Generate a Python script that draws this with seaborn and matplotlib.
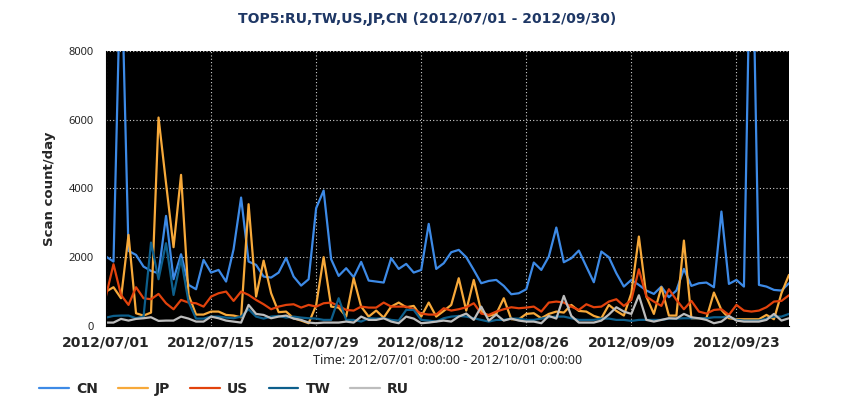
import matplotlib
matplotlib.use("Agg")
import matplotlib.pyplot as plt
import matplotlib.dates as mdates
import numpy as np
import pandas as pd
import seaborn as sns

# daily scan counts, 2012/07/01 .. 2012/09/30
dates = pd.date_range("2012-07-01", "2012-09-30", freq="D")

cn = [2017, 1872, 11000, 2182, 2065, 1726, 1600, 1532, 3200, 1358,
      2085, 1193, 1067, 1920, 1551, 1629, 1290, 2230, 3733, 1872,
      1775, 1435, 1406, 1551, 1978, 1435, 1173, 1358, 3423, 3937,
      1939, 1455, 1678, 1416, 1862, 1319, 1290, 1261, 1969, 1658,
      1804, 1551, 1629, 2967, 1658, 1823, 2143, 2211, 1998, 1629,
      1241, 1309, 1338, 1164, 921, 950, 1067, 1843, 1629, 2017,
      2861, 1852, 1969, 2192, 1726, 1270, 2163, 1998, 1532, 1144,
      1338, 1193, 1028, 931, 1144, 834, 1028, 1658, 1164, 1241,
      1261, 1125, 3326, 1222, 1338, 1144, 13000, 1193, 1144, 1047,
      1028, 1241]
jp = [999, 1125, 805, 2647, 368, 301, 388, 6060, 4150, 2289,
      4393, 900, 330, 330, 417, 417, 320, 301, 252, 3540,
      853, 1900, 950, 400, 417, 223, 155, 78, 600, 1998,
      562, 533, 271, 1387, 562, 271, 446, 242, 562, 679,
      543, 582, 271, 679, 271, 436, 611, 1387, 446, 1338,
      417, 291, 349, 805, 194, 194, 349, 369, 223, 349,
      417, 388, 611, 436, 417, 291, 223, 611, 436, 301,
      950, 2599, 853, 349, 1125, 301, 301, 2482, 223, 223,
      223, 970, 465, 223, 194, 194, 194, 194, 320, 194,
      950, 1484]
us = [873, 1794, 902, 611, 1125, 805, 776, 931, 659, 485,
      756, 679, 659, 562, 853, 950, 999, 727, 999, 902,
      756, 630, 485, 562, 611, 630, 533, 611, 562, 659,
      679, 582, 465, 446, 562, 533, 533, 679, 562, 562,
      562, 485, 359, 330, 330, 514, 446, 485, 543, 659,
      359, 320, 417, 485, 543, 514, 533, 562, 417, 679,
      708, 679, 562, 465, 630, 543, 562, 708, 776, 582,
      756, 1649, 853, 708, 582, 1067, 756, 485, 727, 417,
      359, 465, 485, 320, 611, 446, 417, 446, 543, 708,
      727, 892]
tw = [242, 291, 301, 301, 223, 271, 2424, 1358, 2405, 900,
      1950, 700, 213, 213, 271, 271, 242, 223, 271, 485,
      271, 213, 271, 291, 242, 271, 242, 223, 213, 175,
      175, 805, 175, 175, 126, 223, 213, 223, 175, 155,
      465, 465, 175, 155, 126, 223, 271, 291, 271, 223,
      175, 126, 175, 175, 213, 213, 175, 175, 213, 252,
      271, 271, 223, 175, 175, 175, 213, 213, 175, 175,
      146, 175, 175, 175, 175, 213, 213, 223, 223, 223,
      223, 252, 252, 271, 175, 155, 155, 155, 213, 271,
      271, 349]
ru = [97, 97, 204, 155, 204, 223, 252, 146, 155, 155,
      271, 213, 126, 126, 271, 223, 155, 126, 97, 611,
      349, 320, 223, 271, 301, 213, 175, 97, 78, 97,
      97, 97, 126, 97, 271, 175, 175, 223, 126, 78,
      271, 213, 78, 97, 126, 155, 126, 271, 359, 175,
      562, 155, 330, 155, 213, 155, 126, 126, 78, 291,
      213, 873, 291, 97, 97, 97, 155, 330, 543, 417,
      349, 892, 175, 126, 175, 223, 213, 349, 252, 223,
      175, 78, 126, 291, 155, 126, 126, 126, 175, 349,
      155, 223]

countries = ["CN", "JP", "US", "TW", "RU"]
colors = ["#3d8ae6", "#f7a93a", "#e2420c", "#0d5f8c", "#bdbdbd"]

df = pd.concat([pd.DataFrame({"date": dates, "country": c, "count": v})
                for c, v in zip(countries, [cn, jp, us, tw, ru])])

sns.set_style("white")
plt.rcParams["font.family"] = ["Noto Sans", "DejaVu Sans"]
BOLD = ["DejaVu Sans"]

fig = plt.figure(figsize=(8.5, 4.2), dpi=100)
ax = fig.add_axes([0.1247, 0.224, 0.8035, 0.655])
ax.set_facecolor("black")

sns.lineplot(data=df, x="date", y="count", hue="country", hue_order=countries,
             palette=colors, linewidth=1.6, ax=ax)

ax.set_ylim(0, 8000)
ax.set_xlim(dates[0], dates[-1])
ax.set_yticks(np.arange(0, 8001, 2000))
ax.set_xticks(dates[::14])
ax.xaxis.set_major_formatter(mdates.DateFormatter("%Y/%m/%d"))

ax.grid(True, color="#cfcfcf", linestyle=(0, (1, 2)), linewidth=0.8)
for s in ["top", "right"]:
    ax.spines[s].set_visible(False)
for s in ["left", "bottom"]:
    ax.spines[s].set_color("black")
ax.tick_params(axis="y", direction="out", length=7, width=1, color="black",
               labelsize=8, pad=2)
ax.tick_params(axis="x", direction="out", length=5, width=1, color="black",
               labelsize=10, pad=2)
for lbl in ax.get_xticklabels():
    lbl.set_family(BOLD)
    lbl.set_fontweight("bold")

ax.set_ylabel("Scan count/day", family=BOLD, fontsize=9.5, fontweight="bold",
              labelpad=9)
ax.set_xlabel("Time: 2012/07/01 0:00:00 - 2012/10/01 0:00:00", fontsize=9,
              labelpad=3)
fig.suptitle("TOP5:RU,TW,US,JP,CN (2012/07/01 - 2012/09/30)", x=0.503, y=0.972,
             family=BOLD, fontsize=10, fontweight="bold", color="#1e3765")

handles, labels = ax.get_legend_handles_labels()
ax.get_legend().remove()
fig.legend(handles, labels, loc="center left", bbox_to_anchor=(0.038, 0.074),
           ncol=5, frameon=False, handlelength=2.15, handletextpad=0.5,
           columnspacing=1.45, borderpad=0,
           prop={"family": BOLD, "size": 10, "weight": "bold"})

fig.savefig("out.png", dpi=100)
